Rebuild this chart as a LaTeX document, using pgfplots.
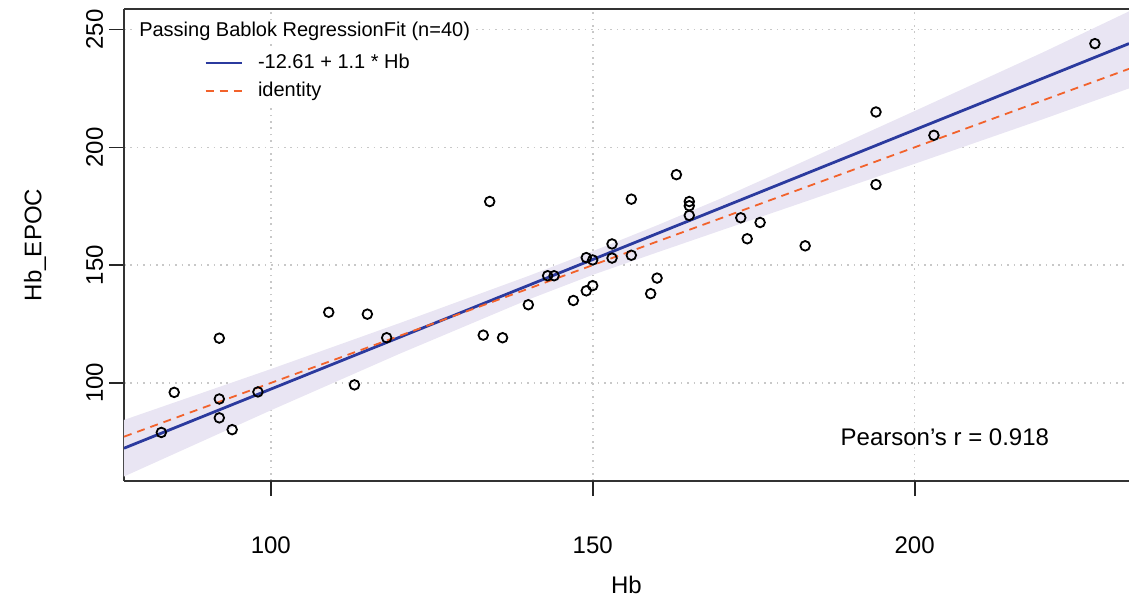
\documentclass[border=0pt]{standalone}
\usepackage{fontspec}
\setmainfont{Liberation Sans}
\usepackage{pgfplots}
\pgfplotsset{compat=1.18}
\definecolor{fitblue}{HTML}{2B3A9E}
\definecolor{idorange}{HTML}{F2622B}
\definecolor{bandfill}{HTML}{E9E5F3}
\definecolor{gridgray}{HTML}{C8C8C8}
\begin{document}
\begin{tikzpicture}
\useasboundingbox (0,0) rectangle (564.5pt,300pt);
\begin{axis}[
  name=ax,
  at={(62pt,59.5pt)}, anchor=south west,
  scale only axis, width=502.5pt, height=236pt,
  xmin=77.2, xmax=233.3, ymin=58.4, ymax=258.7,
  xtick={100,150,200}, ytick={100,150,200,250},
  axis x line*=bottom, axis y line*=left,
  axis line style={-, black!80, line width=0.8pt},
  tick align=outside, major tick length=7.5pt,
  xtick style={black!85, line width=0.9pt},
  ytick style={black!85, line width=0.7pt},
  grid=major,
  grid style={gridgray, line width=0.8pt, dash pattern=on 0.8pt off 2.4pt},
  /pgf/number format/assume math mode=true,
  tick label style={font=\fontsize{12}{14}\selectfont},
  xticklabel style={anchor=north, inner sep=0pt, yshift=-20.2pt},
  yticklabel style={rotate=90, anchor=south, inner sep=0pt},
  yticklabel shift=2.7pt,
  xlabel={Hb}, ylabel={Hb\_EPOC},
  label style={font=\fontsize{12}{14}\selectfont},
  xlabel style={at={(axis description cs:0.5,-0.2203)}, anchor=center},
  ylabel style={at={(axis description cs:-0.0886,0.5)}, anchor=center},
  legend style={at={(axis cs:89.6,241.2)}, anchor=north west, draw=none, fill=white,
    inner sep=0pt, font=\fontsize{10}{11}\selectfont,
    nodes={inner sep=1.5pt, text height=7.4pt, text depth=2pt},
    row sep=1.5pt, column sep=6pt},
  legend cell align=left,
  legend image code/.code={\draw[#1] (0pt,0pt) -- (18pt,0pt);},
]
% confidence band
\addplot[fill=bandfill, draw=none, forget plot] coordinates {
 (77.2,84.31) (100,105.89) (120,125.39) (140,145.39) (150,155.89) (160,166.89)
 (170,178.39) (182,193.09) (200,215.39) (220,240.39) (233.3,257.7)
 (233.3,225.0) (220,212.0) (200,193.0) (182,176.0) (170,164.8) (160,155.39)
 (150,145.89) (140,135.39) (120,112.39) (100,88.39) (77.2,60.31)
} -- cycle;
% regression fit
\addplot[fitblue, line width=1.4pt] coordinates {(77.2,72.31) (233.3,244.02)};
\addlegendentry{-12.61 + 1.1 * Hb}
% identity
\addplot[idorange, line width=0.9pt, dash pattern=on 4pt off 3pt] coordinates {(77.2,77.2) (233.3,233.3)};
\addlegendentry{identity}
% data
\addplot[only marks, mark=o, mark size=2.4pt, black, line width=0.9pt, forget plot] coordinates {
 (83,79) (85,96) (92,119) (92,93.2) (92,85.2) (94,80.2) (98,96.2) (109,130) (113,99.2) (115,129.2)
 (118,119.2) (133,120.3) (134,177) (136,119.2) (140,133.2) (143,145.5) (144,145.5) (147,135) (149,153.2) (149,139.1)
 (150,152.2) (150,141.3) (153,159) (153,153) (156,178) (156,154.2) (159,137.9) (160,144.5) (163,188.4) (165,177)
 (165,175.2) (165,171.1) (173,170.1) (174,161.2) (176,168.1) (183,158.2) (194,215) (194,184.2) (203,205.1) (228,244)
};
\node[anchor=west, fill=white, inner sep=1pt, font=\fontsize{10}{11}\selectfont] at (axis cs:79.2,249.1) {Passing Bablok RegressionFit (n=40)};
\node[font=\fontsize{12}{14}\selectfont] at (axis cs:204.7,77.1) {Pearson's r = 0.918};
\end{axis}
\draw[black!80, line width=0.8pt] (ax.north west) -- (ax.north east);
\foreach \xt in {135.39pt,296.35pt,457.3pt} {
  \draw[black!85, line width=0.9pt] (\xt,59.5pt) -- (\xt,52pt);
}
\end{tikzpicture}
\end{document}
